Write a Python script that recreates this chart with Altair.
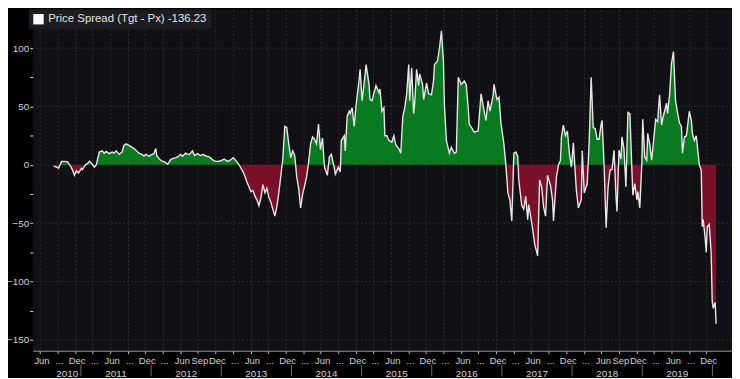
import altair as alt
import pandas as pd

LEGEND_LABEL = "Price Spread (Tgt - Px) -136.23"

# time in decimal years, value of the spread
years = [
    2010.611, 2010.654, 2010.682, 2010.724, 2010.767, 2010.809, 2010.852, 2010.880, 2010.908, 2010.936,
    2010.965, 2011.007, 2011.021, 2011.064, 2011.092, 2011.120, 2011.163, 2011.191, 2011.219, 2011.261,
    2011.304, 2011.332, 2011.360, 2011.403, 2011.445, 2011.473, 2011.501, 2011.544, 2011.586, 2011.614,
    2011.643, 2011.685, 2011.728, 2011.756, 2011.784, 2011.827, 2011.869, 2011.897, 2011.926, 2011.968,
    2012.010, 2012.039, 2012.067, 2012.081, 2012.124, 2012.152, 2012.194, 2012.237, 2012.279, 2012.307,
    2012.350, 2012.378, 2012.420, 2012.449, 2012.491, 2012.520, 2012.548, 2012.590, 2012.619, 2012.661,
    2012.703, 2012.746, 2012.788, 2012.830, 2012.873, 2012.915, 2012.958, 2013.000, 2013.042, 2013.085,
    2013.127, 2013.170, 2013.198, 2013.226, 2013.254, 2013.283, 2013.311, 2013.339, 2013.367, 2013.396,
    2013.424, 2013.452, 2013.481, 2013.509, 2013.537, 2013.566, 2013.594, 2013.622, 2013.650, 2013.679,
    2013.707, 2013.735, 2013.764, 2013.792, 2013.820, 2013.848, 2013.877, 2013.905, 2013.933, 2013.962,
    2013.990, 2014.018, 2014.047, 2014.075, 2014.103, 2014.131, 2014.160, 2014.188, 2014.216, 2014.245,
    2014.273, 2014.301, 2014.329, 2014.358, 2014.386, 2014.414, 2014.443, 2014.471, 2014.512, 2014.541,
    2014.569, 2014.612, 2014.626, 2014.668, 2014.696, 2014.711, 2014.753, 2014.767, 2014.795, 2014.824,
    2014.838, 2014.866, 2014.894, 2014.923, 2014.965, 2014.979, 2015.007, 2015.036, 2015.064, 2015.106,
    2015.120, 2015.149, 2015.177, 2015.205, 2015.248, 2015.262, 2015.290, 2015.318, 2015.332, 2015.360,
    2015.389, 2015.431, 2015.460, 2015.488, 2015.530, 2015.558, 2015.587, 2015.615, 2015.643, 2015.672,
    2015.686, 2015.714, 2015.742, 2015.756, 2015.784, 2015.813, 2015.827, 2015.869, 2015.884, 2015.926,
    2015.954, 2015.996, 2016.025, 2016.039, 2016.081, 2016.110, 2016.138, 2016.166, 2016.180, 2016.208,
    2016.251, 2016.279, 2016.322, 2016.350, 2016.378, 2016.392, 2016.420, 2016.463, 2016.491, 2016.519,
    2016.534, 2016.576, 2016.604, 2016.661, 2016.703, 2016.731, 2016.774, 2016.802, 2016.830, 2016.873,
    2016.887, 2016.929, 2016.958, 2016.986, 2017.028, 2017.056, 2017.085, 2017.113, 2017.141, 2017.170,
    2017.198, 2017.226, 2017.240, 2017.283, 2017.311, 2017.339, 2017.367, 2017.382, 2017.438, 2017.467,
    2017.509, 2017.537, 2017.566, 2017.594, 2017.622, 2017.650, 2017.693, 2017.721, 2017.735, 2017.778,
    2017.806, 2017.834, 2017.848, 2017.876, 2017.905, 2017.933, 2017.961, 2017.990, 2018.018, 2018.060,
    2018.089, 2018.131, 2018.145, 2018.173, 2018.216, 2018.244, 2018.272, 2018.301, 2018.329, 2018.357,
    2018.385, 2018.414, 2018.428, 2018.456, 2018.485, 2018.513, 2018.541, 2018.569, 2018.598, 2018.626,
    2018.640, 2018.668, 2018.697, 2018.711, 2018.739, 2018.767, 2018.796, 2018.824, 2018.852, 2018.866,
    2018.894, 2018.923, 2018.937, 2018.965, 2018.993, 2019.007, 2019.035, 2019.064, 2019.078, 2019.106,
    2019.134, 2019.148, 2019.191, 2019.219, 2019.247, 2019.276, 2019.290, 2019.318, 2019.346, 2019.361,
    2019.389, 2019.417, 2019.445, 2019.474, 2019.502, 2019.530, 2019.558, 2019.573, 2019.601, 2019.629,
    2019.643, 2019.671, 2019.700, 2019.714, 2019.742, 2019.770, 2019.799, 2019.813, 2019.841, 2019.855,
    2019.869, 2019.898, 2019.912, 2019.926, 2019.954, 2019.982, 2019.997, 2020.011, 2020.039, 2020.053,
]
values = [
    -1, -2, -3, 3, 3, 2.5, -1, -4.5, -9, -5,
    -7, -3, -4, 0, 1, 3, 0.5, -2, 0, 11,
    12, 10, 11.5, 9.6, 11, 10, 12, 9, 11, 16.7,
    18, 16.7, 15, 14, 12.5, 10, 9, 7.6, 9, 7.4,
    8.8, 9.6, 14, 8, 4.5, 3.4, 2.5, 0.5, 4.5, 5.4,
    6.2, 6.8, 9, 7.4, 10, 9, 9, 12, 8, 9.6,
    8, 8.8, 7.4, 6.8, 4.5, 3, 3, 3.7, 5, 3,
    4, 6.2, 4.5, 2.3, 0, -3, -6, -10, -15, -19,
    -23, -22, -27, -30, -35, -28, -17, -24, -20, -28,
    -32, -38, -44, -36, -24, -10, 5, 33, 32, 18,
    6, 12, 8, -10, -20, -37, -25, -18, -10, 2,
    18, 24, 22, 18, 35, 13, 23, -2, -9, 7,
    9, -3, -8, -2, -6, 21, 25, 12, 42, 46,
    44, 49, 33, 52, 73, 82, 55, 70, 86, 69,
    56, 55, 62, 68, 62, 65, 46, 49, 25, 25,
    21, 19.5, 25, 17, 14, 10, 41, 49, 61, 86,
    55, 83, 44, 52, 82, 68, 78, 69, 56, 70,
    61, 60, 72, 86, 89, 100, 115, 89, 52, 21,
    10, 15, 10, 11, 75, 73, 69, 72, 69, 49,
    35, 31, 28, 29, 61, 51, 38, 55, 46, 59,
    69, 56, 58, 36, 18, 0, -24, -30, -48, 10,
    11, 7, -13, -35, -38, -27, -47, -34, -55, -68,
    -78, -13, -19, -36, -44, -9, -18, -30, -48, -10,
    0, 4, 24, 34, 25, 29, 10, -2, 19, -21,
    -37, -30, 12, -24, -16, 21, 75, 32, 31, 22,
    22, 35, 38, 0, -54, -19, -4.5, -4, 12.5, -27,
    -40, 12.5, 5, 24, 14, -19, 45, 44, -4, -26,
    -16, -30, -23, -37, 0, 39, 7, 4, 27, 18,
    4, 12.5, 39, 37, 60, 34, 39, 46, 53, 44,
    60, 87, 97, 55, 45, 36, 33, 10, 24, 25,
    32, 46, 38, 27, 21, 25, 8, 0, -4.5, -53,
    -47, -64, -75, -53, -51, -75, -117, -123, -118, -136.23,
]

year_labels = [2010, 2011, 2012, 2013, 2014, 2015, 2016, 2017, 2018, 2019]
y_ticks = [-150, -125, -100, -75, -50, -25, 0, 25, 50, 75, 100, 125]
y_grid = [-150, -100, -50, 0, 50, 100]
x_domain = [2010.314, 2020.279]
y_domain = [-159.35, 133.2]

W, H = 705, 344
GREEN = "#0a7a21"
RED = "#7a1029"
LINE = "#e6e6e6"
FONT = "Liberation Sans"
TXT = "#d2d2d2"

# data table with zero crossings inserted so the fills split cleanly
rows = []
for i in range(len(years)):
    if i > 0:
        v0, v1 = values[i - 1], values[i]
        if (v0 < 0 < v1) or (v0 > 0 > v1):
            t0, t1 = years[i - 1], years[i]
            rows.append((t0 + (t1 - t0) * (-v0) / (v1 - v0), 0.0))
    rows.append((years[i], values[i]))
df = pd.DataFrame(rows, columns=["t", "v"])
df["pos"] = df["v"].clip(lower=0)
df["neg"] = df["v"].clip(upper=0)

line_df = pd.DataFrame({"t": years, "v": values, "series": LEGEND_LABEL})

quarter_ticks = [y + (m - 1) / 12 for y in range(2010, 2020) for m in (3, 6, 9, 12)
                 if y + (m - 1) / 12 >= x_domain[0]]
mexpr = "round((datum.value-floor(datum.value+0.001))*12)"
month_label = (f"{mexpr}==5 ? 'Jun' : {mexpr}==11 ? 'Dec' : "
               f"({mexpr}==8 && (floor(datum.value+0.001)==2012 || floor(datum.value+0.001)==2018)) ? 'Sep' : '...'")

x_axis = alt.Axis(values=quarter_ticks, labelExpr=month_label, title=None, grid=True,
                  gridColor="#2e2e38", gridDash=[2, 2], gridWidth=1,
                  domainColor="#9a9a9a", tickColor="#bdbdbd", tickSize=3,
                  labelColor=TXT, labelFontSize=9.5, labelFont=FONT,
                  labelPadding=2, labelOffset=1.5, labelOverlap=False, labelBound=False,
                  labelFlush=False)
x_scale = alt.Scale(domain=x_domain, nice=False, zero=False)
y_scale = alt.Scale(domain=y_domain, nice=False, zero=False)
y_axis = alt.Axis(values=y_ticks, labelExpr="datum.value % 50 == 0 ? datum.label : ''",
                  title=None, grid=False, domain=False, tickColor="#e0e0e0", tickSize=3,
                  labelColor=TXT, labelFontSize=10, labelFont=FONT, labelPadding=1)

base = alt.Chart(df)

pos_area = base.mark_area(color=GREEN, opacity=1).encode(
    x=alt.X("t:Q", scale=x_scale, axis=x_axis),
    y=alt.Y("pos:Q", scale=y_scale, axis=y_axis),
    y2=alt.datum(0),
)
neg_area = base.mark_area(color=RED, opacity=1).encode(
    x=alt.X("t:Q", scale=x_scale, axis=x_axis),
    y=alt.Y("neg:Q", scale=y_scale, axis=y_axis),
    y2=alt.datum(0),
)

grid_df = pd.DataFrame({"g": y_grid})
hgrid = alt.Chart(grid_df).mark_rule(color="#2e2e38", strokeDash=[2, 2], strokeWidth=1).encode(
    y=alt.Y("g:Q", scale=y_scale, axis=y_axis),
)

line = alt.Chart(line_df).mark_line(strokeWidth=1.4, interpolate="linear").encode(
    x=alt.X("t:Q", scale=x_scale, axis=x_axis),
    y=alt.Y("v:Q", scale=y_scale, axis=y_axis),
    color=alt.Color("series:N", scale=alt.Scale(domain=[LEGEND_LABEL], range=[LINE]),
                    legend=alt.Legend(orient="none", legendX=-4, legendY=0, title=None,
                                      fillColor="#1c1c22", padding=4,
                                      symbolType="square", symbolSize=110,
                                      symbolFillColor="#ffffff", symbolStrokeColor="#ffffff",
                                      symbolStrokeWidth=0, labelLimit=400,
                                      labelColor="#e4e4e4", labelFontSize=11.5, labelFont=FONT)),
)

start = years[0]
yl_df = pd.DataFrame({
    "yl": [str(y) for y in year_labels],
    "yc": [(max(y, start) + y + 1) / 2 for y in year_labels],
})
year_text = alt.Chart(yl_df).mark_text(color=TXT, fontSize=10, font=FONT,
                                       baseline="middle", align="center").encode(
    x=alt.X("yc:Q", scale=x_scale, axis=x_axis),
    y=alt.value(H + 24),
    text="yl:N",
)
sep_df = pd.DataFrame({"ys": [y + 1 for y in year_labels]})
year_sep = alt.Chart(sep_df).mark_rule(color="#6a6a6a", strokeWidth=1).encode(
    x=alt.X("ys:Q", scale=x_scale, axis=x_axis),
    y=alt.value(H + 14),
    y2=alt.value(H + 26),
)

chart = alt.layer(hgrid, pos_area, neg_area, line, year_sep, year_text).properties(
    width=W, height=H,
    autosize=alt.AutoSizeParams(type="none"),
    padding={"left": 25, "top": 0, "right": 0, "bottom": 26},
    background="#000000",
).configure_view(fill="#101015", stroke=None)

chart.save("out.html", embed_options={"renderer": "svg", "actions": False})
